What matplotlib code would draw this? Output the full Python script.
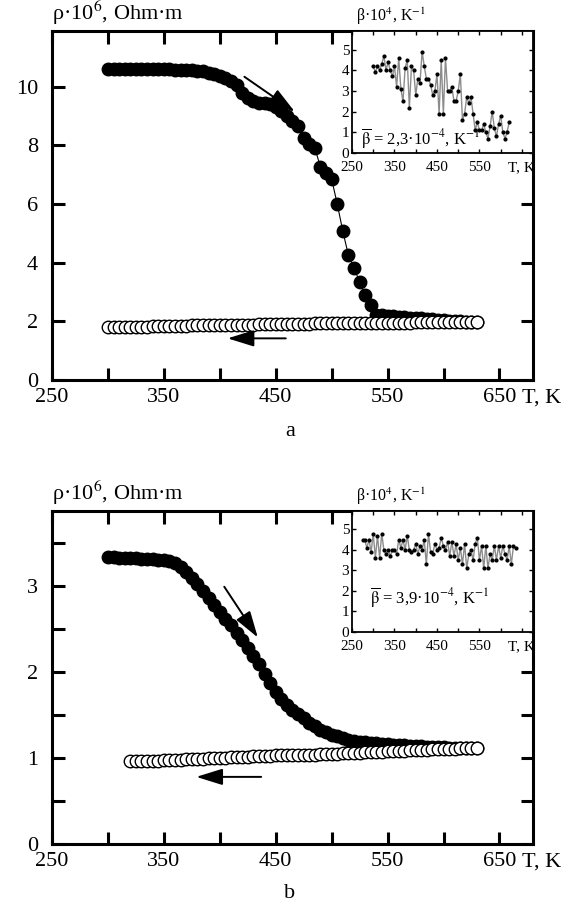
import matplotlib.pyplot as plt

plt.rcParams['font.family'] = ['Liberation Serif', 'DejaVu Serif']
plt.rcParams['mathtext.fontset'] = 'stix'

# ---- panel a: resistivity, heating (filled) and cooling (open) ----
T_a = [300, 305, 310, 315, 320, 325, 330, 335, 340, 345,
       350, 355, 360, 365, 370, 375, 380, 385, 390, 395,
       400, 405, 410, 415, 420, 425, 430, 435, 440, 445,
       450, 455, 460, 465, 470, 475, 480, 485, 490, 495,
       500, 505, 510, 515, 520, 525, 530, 535, 540, 545,
       550, 555, 560, 565, 570, 575, 580, 585, 590, 595,
       600, 605, 610, 615, 620, 625, 630]
rho_a_heat = [10.62, 10.62, 10.61, 10.61, 10.61, 10.60, 10.60, 10.60, 10.60, 10.59,
              10.59, 10.59, 10.58, 10.58, 10.57, 10.56, 10.55, 10.52, 10.48, 10.43,
              10.37, 10.30, 10.20, 10.05, 9.80, 9.62, 9.52, 9.46, 9.43, 9.40,
              9.32, 9.18, 9.00, 8.82, 8.65, 8.25, 8.05, 7.92, 7.25, 7.05,
              6.85, 6.00, 5.07, 4.25, 3.83, 3.34, 2.89, 2.55, 2.22, 2.20,
              2.19, 2.17, 2.16, 2.14, 2.13, 2.11, 2.10, 2.08, 2.07, 2.05,
              2.04, 2.02, 2.01, 2.00, 1.99, 1.98, 1.97]
rho_a_cool = [1.80, 1.80, 1.81, 1.81, 1.81, 1.82, 1.82, 1.82, 1.83, 1.83,
              1.84, 1.84, 1.85, 1.85, 1.85, 1.86, 1.86, 1.86, 1.87, 1.87,
              1.87, 1.88, 1.88, 1.88, 1.89, 1.89, 1.89, 1.90, 1.90, 1.90,
              1.91, 1.91, 1.91, 1.92, 1.92, 1.92, 1.92, 1.93, 1.93, 1.93,
              1.93, 1.94, 1.94, 1.94, 1.94, 1.95, 1.95, 1.95, 1.95, 1.95,
              1.96, 1.96, 1.96, 1.96, 1.96, 1.97, 1.97, 1.97, 1.97, 1.97,
              1.97, 1.98, 1.98, 1.98, 1.98, 1.98, 1.98]

# ---- panel b ----
T_b_heat = T_a
rho_b_heat = [3.33, 3.33, 3.32, 3.32, 3.32, 3.32, 3.31, 3.31, 3.31, 3.30,
              3.30, 3.29, 3.27, 3.22, 3.16, 3.09, 3.02, 2.94, 2.86, 2.78,
              2.70, 2.62, 2.54, 2.45, 2.37, 2.28, 2.19, 2.09, 1.98, 1.87,
              1.77, 1.68, 1.61, 1.56, 1.51, 1.46, 1.41, 1.37, 1.33, 1.30,
              1.27, 1.25, 1.23, 1.21, 1.20, 1.19, 1.18, 1.17, 1.17, 1.16,
              1.16, 1.15, 1.15, 1.15, 1.14, 1.14, 1.14, 1.13, 1.13, 1.13,
              1.13, 1.12, 1.12, 1.12, 1.12, 1.12, 1.12]
T_b_cool = [320, 325, 330, 335, 340, 345, 350, 355, 360, 365,
            370, 375, 380, 385, 390, 395, 400, 405, 410, 415,
            420, 425, 430, 435, 440, 445, 450, 455, 460, 465,
            470, 475, 480, 485, 490, 495, 500, 505, 510, 515,
            520, 525, 530, 535, 540, 545, 550, 555, 560, 565,
            570, 575, 580, 585, 590, 595, 600, 605, 610, 615,
            620, 625, 630]
rho_b_cool = [0.96, 0.96, 0.97, 0.97, 0.97, 0.97, 0.98, 0.98, 0.98, 0.98,
              0.99, 0.99, 0.99, 0.99, 1.00, 1.00, 1.00, 1.00, 1.01, 1.01,
              1.01, 1.01, 1.02, 1.02, 1.02, 1.02, 1.03, 1.03, 1.03, 1.03,
              1.04, 1.04, 1.04, 1.04, 1.05, 1.05, 1.05, 1.05, 1.06, 1.06,
              1.06, 1.06, 1.07, 1.07, 1.07, 1.07, 1.08, 1.08, 1.08, 1.08,
              1.09, 1.09, 1.09, 1.09, 1.10, 1.10, 1.10, 1.10, 1.10, 1.11,
              1.11, 1.11, 1.11]

# ---- insets: beta ----
T_beta_a = [300, 305, 310, 315, 320, 325, 330, 335, 340, 345,
            350, 355, 360, 365, 370, 375, 380, 385, 390, 395,
            400, 405, 410, 415, 420, 425, 430, 435, 440, 445,
            450, 455, 460, 465, 470, 475, 480, 485, 490, 495,
            500, 505, 510, 515, 520, 525, 530, 535, 540, 545,
            550, 555, 560, 565, 570, 575, 580, 585, 590, 595,
            600, 605, 610, 615, 620]
beta_a = [4.2, 3.9, 4.2, 4.0, 4.3, 4.7, 4.0, 4.4, 4.0, 3.7,
          4.2, 3.2, 4.6, 3.1, 2.5, 4.1, 4.5, 2.2, 4.2, 4.0,
          2.8, 3.6, 3.4, 4.9, 4.2, 3.6, 3.6, 3.3, 2.8, 3.0,
          3.8, 1.9, 4.5, 1.9, 4.6, 3.0, 3.0, 3.2, 2.5, 2.5,
          3.0, 3.8, 1.6, 1.9, 2.7, 2.4, 2.7, 1.9, 1.1, 1.5,
          1.1, 1.1, 1.4, 1.0, 0.7, 1.3, 2.0, 1.2, 0.8, 1.4,
          1.8, 1.0, 0.7, 1.0, 1.5]
T_beta_b = [275, 280, 285, 290, 295, 300, 305, 310, 315, 320,
            325, 330, 335, 340, 345, 350, 355, 360, 365, 370,
            375, 380, 385, 390, 395, 400, 405, 410, 415, 420,
            425, 430, 435, 440, 445, 450, 455, 460, 465, 470,
            475, 480, 485, 490, 495, 500, 505, 510, 515, 520,
            525, 530, 535, 540, 545, 550, 555, 560, 565, 570,
            575, 580, 585, 590, 595, 600, 605, 610, 615, 620,
            625, 630, 635]
beta_b = [4.5, 4.5, 4.1, 4.5, 3.9, 4.8, 3.6, 4.7, 3.6, 4.8,
          4.0, 3.8, 4.0, 3.7, 4.0, 4.0, 3.8, 4.5, 4.1, 4.5,
          4.0, 4.7, 4.0, 3.9, 4.0, 4.3, 3.8, 4.2, 4.0, 4.5,
          3.3, 4.8, 3.9, 3.8, 4.3, 4.0, 4.1, 4.6, 4.2, 4.0,
          4.4, 3.7, 4.4, 3.7, 4.3, 3.5, 4.1, 3.3, 4.3, 3.1,
          3.8, 4.0, 3.5, 4.3, 4.6, 3.5, 4.2, 3.1, 4.2, 3.1,
          3.8, 3.5, 4.2, 3.5, 4.2, 3.6, 4.2, 3.8, 3.5, 4.2,
          3.3, 4.2, 4.1]

x_ticks = [250, 300, 350, 400, 450, 500, 550, 600, 650]
x_labels = ['250', '', '350', '', '450', '', '550', '', '650']
inset_x_labels = ['250', '', '350', '', '450', '', '550', '', 'T, K']

fig = plt.figure(figsize=(5.76, 9.08), dpi=100)
W, H = 576.0, 908.0


def px_axes(l, t, r, b):
    return fig.add_axes([l / W, 1 - b / H, (r - l) / W, (b - t) / H])


def style_main(ax, ymax, yticks, ylabels):
    ax.set_xlim(250, 680)
    ax.set_ylim(0, ymax)
    ax.set_xticks(x_ticks)
    ax.set_xticklabels(x_labels)
    ax.set_yticks(yticks)
    ax.set_yticklabels(ylabels)
    ax.tick_params(direction='in', length=9, width=2.2, top=True, right=True,
                   labelsize=16)
    ax.tick_params(axis='x', pad=6)
    ax.tick_params(axis='y', pad=10)
    for s in ax.spines.values():
        s.set_linewidth(2.2)
    ax.annotate('T, K', xy=(650, 0), xycoords=('data', 'axes fraction'),
                xytext=(16, -6), textcoords='offset points',
                ha='left', va='top', fontsize=16)
    ax.text(0, 1.012, 'ρ·10$^6$, Ohm·m', transform=ax.transAxes,
            ha='left', va='bottom', fontsize=16)


def draw_main(ax, Th, rh, Tc, rc):
    ax.plot(Th, rh, '-', color='k', lw=0.8, marker='o', ms=9,
            mfc='k', mec='k', zorder=2)
    ax.plot(Tc, rc, 'o', ms=9, mfc='white', mec='k', mew=1.0, zorder=3)


def arrow(ax, tail, head):
    ax.annotate('', xy=head, xytext=tail,
                arrowprops=dict(arrowstyle='-|>,head_length=0.9,head_width=0.28',
                                color='k', lw=1.4, shrinkA=0, shrinkB=0,
                                mutation_scale=18))


def draw_inset(ax, T, beta, text, tx, ty):
    ax.plot(T, beta, '-', color='#8c8c8c', lw=1.0, marker='o', ms=2.0,
            mfc='k', mec='k')
    ax.set_xlim(250, 676)
    ax.set_ylim(0, 5.9)
    ax.set_xticks(x_ticks)
    ax.set_xticklabels(inset_x_labels)
    ax.set_yticks([0, 1, 2, 3, 4, 5])
    ax.tick_params(direction='in', length=3, width=1, top=True, right=True,
                   labelsize=11)
    ax.tick_params(axis='x', pad=6)
    ax.tick_params(axis='y', pad=2)
    for s in ax.spines.values():
        s.set_linewidth(1.3)
    ax.text(0.02, 1.03, 'β·10$^4$, K$^{-1}$', transform=ax.transAxes,
            ha='left', va='bottom', fontsize=11.5)
    ax.text(tx, ty, text, transform=ax.transAxes, ha='left', va='center',
            fontsize=12)


ax_a = px_axes(52, 31, 533, 380)
draw_main(ax_a, T_a, rho_a_heat, T_a, rho_a_cool)
style_main(ax_a, 11.9, [0, 2, 4, 6, 8, 10], ['0', '2', '4', '6', '8', '10'])
arrow(ax_a, (422, 10.34), (467, 9.15))
arrow(ax_a, (459, 1.42), (407, 1.42))

ax_b = px_axes(52, 511, 533, 844)
draw_main(ax_b, T_b_heat, rho_b_heat, T_b_cool, rho_b_cool)
style_main(ax_b, 3.87, [0, 0.5, 1, 1.5, 2, 2.5, 3, 3.5],
           ['0', '', '1', '', '2', '', '3', ''])
arrow(ax_b, (404, 2.99), (434, 2.40))
arrow(ax_b, (437, 0.78), (379, 0.78))

in_a = px_axes(352, 31, 533, 153)
draw_inset(in_a, T_beta_a, beta_a,
           r'$\overline{\mathrm{\beta}}$ = 2,3·10$^{-4}$, K$^{-1}$', 0.05, 0.12)
in_b = px_axes(352, 511, 533, 632)
draw_inset(in_b, T_beta_b, beta_b,
           r'$\overline{\mathrm{\beta}}$ = 3,9·10$^{-4}$, K$^{-1}$', 0.10, 0.29)

fig.text(290 / W, 1 - 432 / H, 'a', ha='center', va='center', fontsize=16)
fig.text(290 / W, 1 - 893 / H, 'b', ha='center', va='center', fontsize=16)

fig.savefig('out.png', dpi=100)
